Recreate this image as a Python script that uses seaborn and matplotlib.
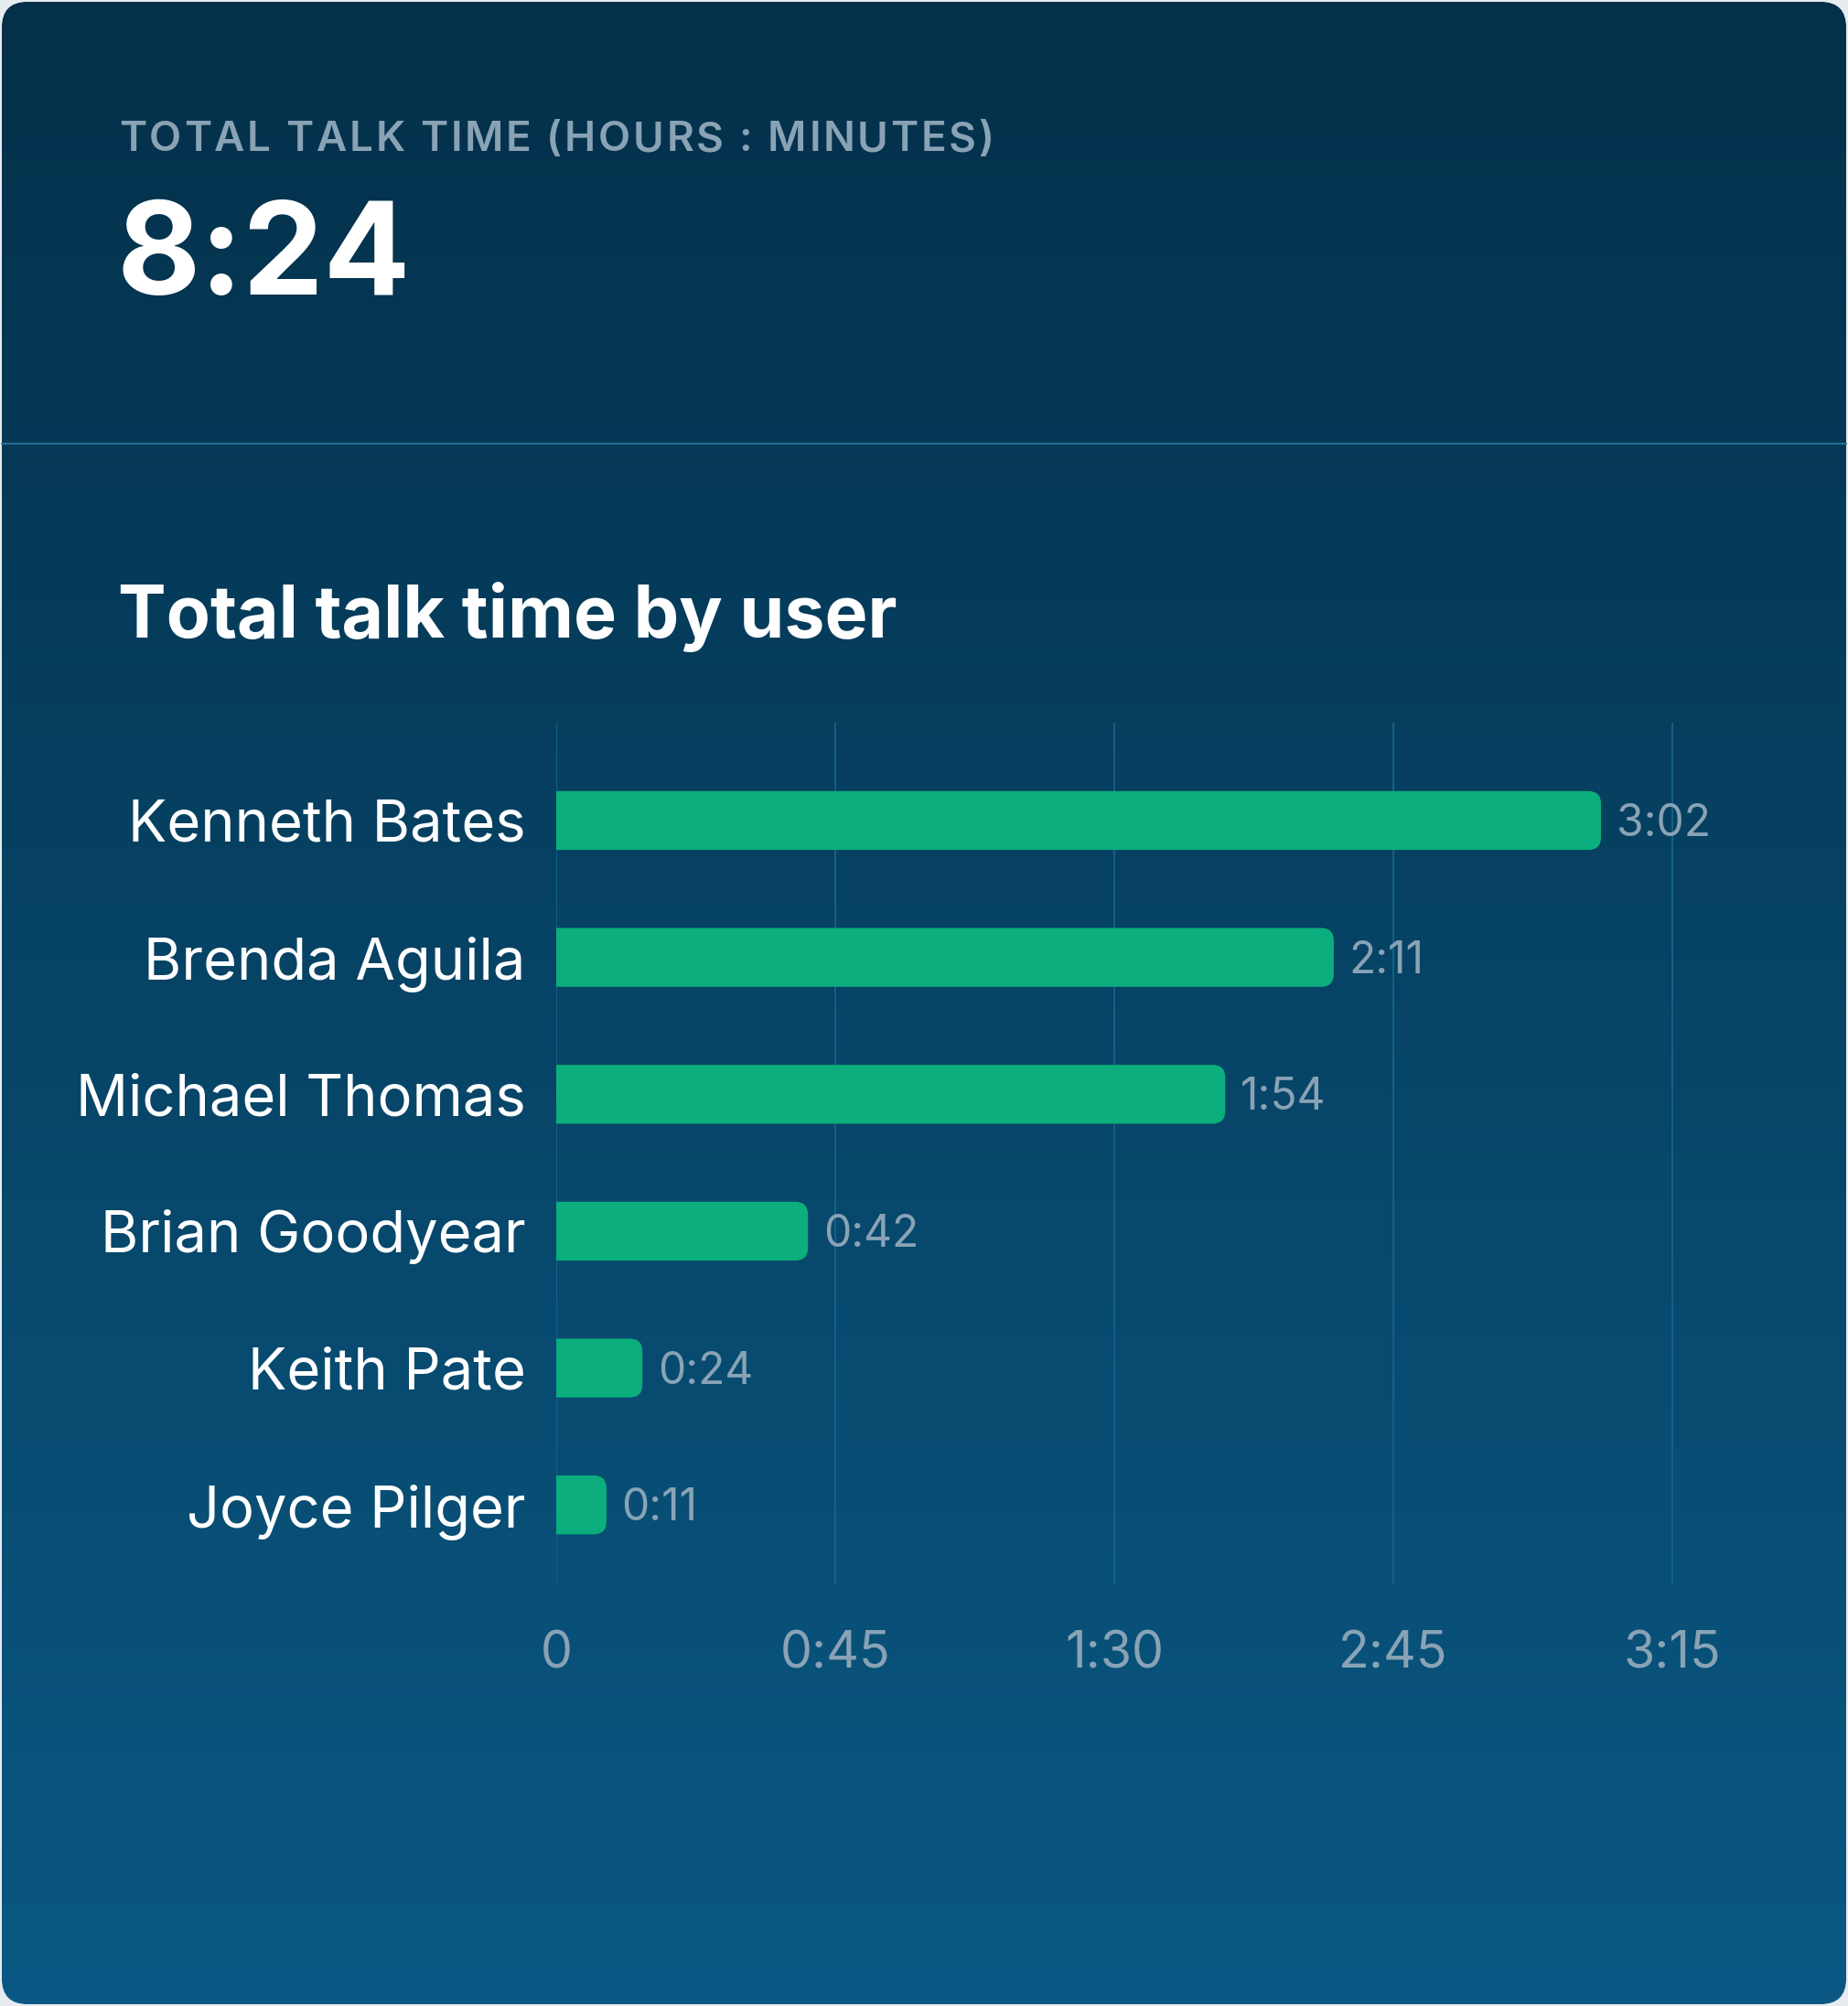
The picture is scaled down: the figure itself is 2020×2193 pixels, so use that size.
import matplotlib
matplotlib.use("Agg")
import matplotlib.pyplot as plt
import numpy as np
import pandas as pd
import seaborn as sns
from matplotlib.patches import FancyBboxPatch
from matplotlib.colors import LinearSegmentedColormap

# ---------------- data ----------------
users = ["Kenneth Bates", "Brenda Aguila", "Michael Thomas",
         "Brian Goodyear", "Keith Pate", "Joyce Pilger"]
# bar lengths (axis unit: minutes, gridline every 45)
bar_lengths = [168.5, 125.4, 107.9, 40.6, 13.9, 8.1]
value_labels = ["3:02", "2:11", "1:54", "0:42", "0:24", "0:11"]
tick_positions = [0, 45, 90, 135, 180]
tick_labels = ["0", "0:45", "1:30", "2:45", "3:15"]
header_label = "TOTAL TALK TIME (HOURS : MINUTES)"
total_value = "8:24"
chart_title = "Total talk time by user"

# ---------------- style ----------------
W, H = 2020, 2193
DPI = 100
sns.set_theme(style="white")
plt.rcParams["font.family"] = ["Inter", "DejaVu Sans"]

BG_TOP = "#04304a"
BG_BOT = "#0a5883"
OUTER = "#e6ecef"
BAR = "#0bae7c"
MUTED = "#89a3b5"
GRID = "#14608a"

fig = plt.figure(figsize=(W / DPI, H / DPI), dpi=DPI)
fig.patch.set_facecolor(OUTER)
renderer = fig.canvas.get_renderer()

# background card with gradient
bg = fig.add_axes([0, 0, 1, 1])
bg.set_xlim(0, W)
bg.set_ylim(H, 0)
bg.axis("off")
cmap = LinearSegmentedColormap.from_list("card", [BG_TOP, BG_BOT])
grad = np.linspace(0, 1, 512).reshape(-1, 1)
im = bg.imshow(grad, cmap=cmap, aspect="auto", extent=(0, W, H, 0), zorder=0)
card = FancyBboxPatch((2, 2), W - 4, H - 4, boxstyle="round,pad=0,rounding_size=28",
                      facecolor="none", edgecolor="none", transform=bg.transData)
bg.add_patch(card)
im.set_clip_path(card)
# divider line
bg.plot([2, W - 2], [485, 485], color="#1f6f92", lw=1.5, zorder=1)


def px(x, y):
    return x / W, 1 - y / H


def text_width(s, **kw):
    t = fig.text(0, 0, s + "|", **kw)
    w1 = t.get_window_extent(renderer).width
    t.remove()
    t = fig.text(0, 0, "|", **kw)
    w0 = t.get_window_extent(renderer).width
    t.remove()
    return w1 - w0


def tracked_text(x, y, s, tracking, **kw):
    for i, ch in enumerate(s):
        if ch == " ":
            continue
        off = text_width(s[:i], **kw) + i * tracking if i else 0
        fig.text(*px(x + off, y), ch, va="baseline", ha="left", **kw)


tracked_text(130, 165, header_label, 2.7, color=MUTED, fontsize=33,
             fontweight="semibold")
fig.text(*px(128, 322), total_value, color="white", fontsize=101,
         fontweight="bold", va="baseline", ha="left")
fig.text(*px(129, 697), chart_title, color="white", fontsize=56.8,
         fontweight="bold", va="baseline", ha="left")

# ---------------- chart ----------------
x_left, x_unit = 608, 305 / 45.0
xmax = 185
y_top, y_bot = 790, 1732
ax = fig.add_axes([x_left / W, 1 - y_bot / H, xmax * x_unit / W, (y_bot - y_top) / H])
ax.patch.set_alpha(0)

df = pd.DataFrame({"user": users, "length": bar_lengths})
sns.barplot(data=df, x="length", y="user", orient="h", color=BAR,
            width=0.43, ax=ax, saturation=1)

ax.set_xlim(0, xmax)
ax.set_ylim(5.58, -0.715)

# rounded right ends (left end extends past x=0 and is clipped by the axes)
row_px = 149.6
radius_px = 14
aspect = (1 / row_px) / (1 / x_unit)
r = radius_px / x_unit
for bar in list(ax.patches):
    x0, y0, w, h = bar.get_x(), bar.get_y(), bar.get_width(), bar.get_height()
    bar.set_visible(False)
    rb = FancyBboxPatch((x0 - 3 * r, y0), w + 3 * r, h,
                        boxstyle=f"round,pad=0,rounding_size={r}",
                        mutation_aspect=aspect, facecolor=BAR, edgecolor="none",
                        zorder=3, clip_on=True)
    ax.add_patch(rb)

for i, lab in enumerate(value_labels):
    ax.annotate(lab, xy=(bar_lengths[i], i), xytext=(12, -3),
                textcoords="offset points", ha="left", va="center",
                color=MUTED, fontsize=34.5, zorder=4)

ax.set_xticks(tick_positions)
ax.set_xticklabels(tick_labels)
for x in tick_positions:
    ax.axvline(x, color=GRID, lw=1.4, zorder=1)

ax.tick_params(axis="x", length=0, pad=36, labelsize=40, labelcolor=MUTED)
ax.tick_params(axis="y", length=0, pad=24, labelsize=45.5, labelcolor="white")
for s in ax.spines.values():
    s.set_visible(False)
ax.set_xlabel("")
ax.set_ylabel("")
ax.grid(False)

fig.savefig("out.png", dpi=DPI, facecolor=OUTER)
